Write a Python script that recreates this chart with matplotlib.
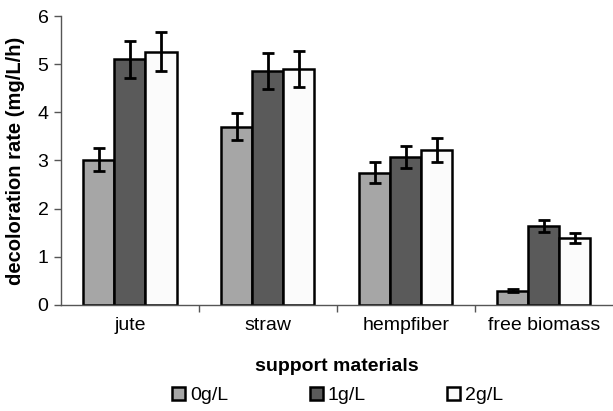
import numpy as np
import matplotlib.pyplot as plt
from matplotlib.ticker import FixedLocator

plt.rcParams['font.family'] = ['Liberation Sans', 'DejaVu Sans']

materials = ["jute", "straw", "hempfiber", "free biomass"]
doses = ["0g/L", "1g/L", "2g/L"]
rates = [
    [3.02, 3.70, 2.75, 0.30],
    [5.10, 4.86, 3.08, 1.64],
    [5.26, 4.90, 3.21, 1.39],
]
errors = [
    [0.23, 0.28, 0.21, 0.03],
    [0.38, 0.37, 0.23, 0.13],
    [0.40, 0.38, 0.25, 0.11],
]
colors = ["#a6a6a6", "#5a5a5a", "#fbfbfb"]

fig = plt.figure(figsize=(6.13, 4.11), dpi=100)
ax = fig.add_axes([0.0995, 0.258, 0.9, 0.703])

x = np.arange(len(materials))
w = 0.225
for i in range(len(doses)):
    ax.bar(x + (i - 1) * w, rates[i], w, color=colors[i], edgecolor="black",
           linewidth=1.8, label=doses[i], zorder=2)
    ax.errorbar(x + (i - 1) * w, rates[i], yerr=errors[i], fmt="none",
                ecolor="black", elinewidth=2, capsize=4.5, capthick=2, zorder=3)

ax.set_xlim(-0.5, 3.5)
ax.set_ylim(0, 6)
ax.set_yticks(range(7))
ax.set_xticks(x)
ax.set_xticklabels(materials, fontsize=14)
ax.xaxis.set_minor_locator(FixedLocator([0.5, 1.5, 2.5]))
ax.tick_params(axis="x", which="major", length=0, pad=9)
ax.tick_params(axis="x", which="minor", length=5, width=1, color="#555555")
ax.tick_params(axis="y", labelsize=14, length=5, width=1, color="#555555", pad=4)

for s in ["top", "right"]:
    ax.spines[s].set_visible(False)
for s in ["left", "bottom"]:
    ax.spines[s].set_color("#555555")
    ax.spines[s].set_linewidth(1)

ax.set_ylabel("decoloration rate (mg/L/h)", fontsize=14.5, fontweight="bold", labelpad=9)
ax.set_xlabel("support materials", fontsize=14, fontweight="bold", labelpad=17)

handles, labels = ax.get_legend_handles_labels()
fig.legend(handles, labels, loc="center", bbox_to_anchor=(0.551, 0.038), ncol=3,
           frameon=False, fontsize=14, handlelength=0.67, handleheight=0.67,
           handletextpad=0.25, columnspacing=4.2)

fig.savefig("out.png", dpi=100)
